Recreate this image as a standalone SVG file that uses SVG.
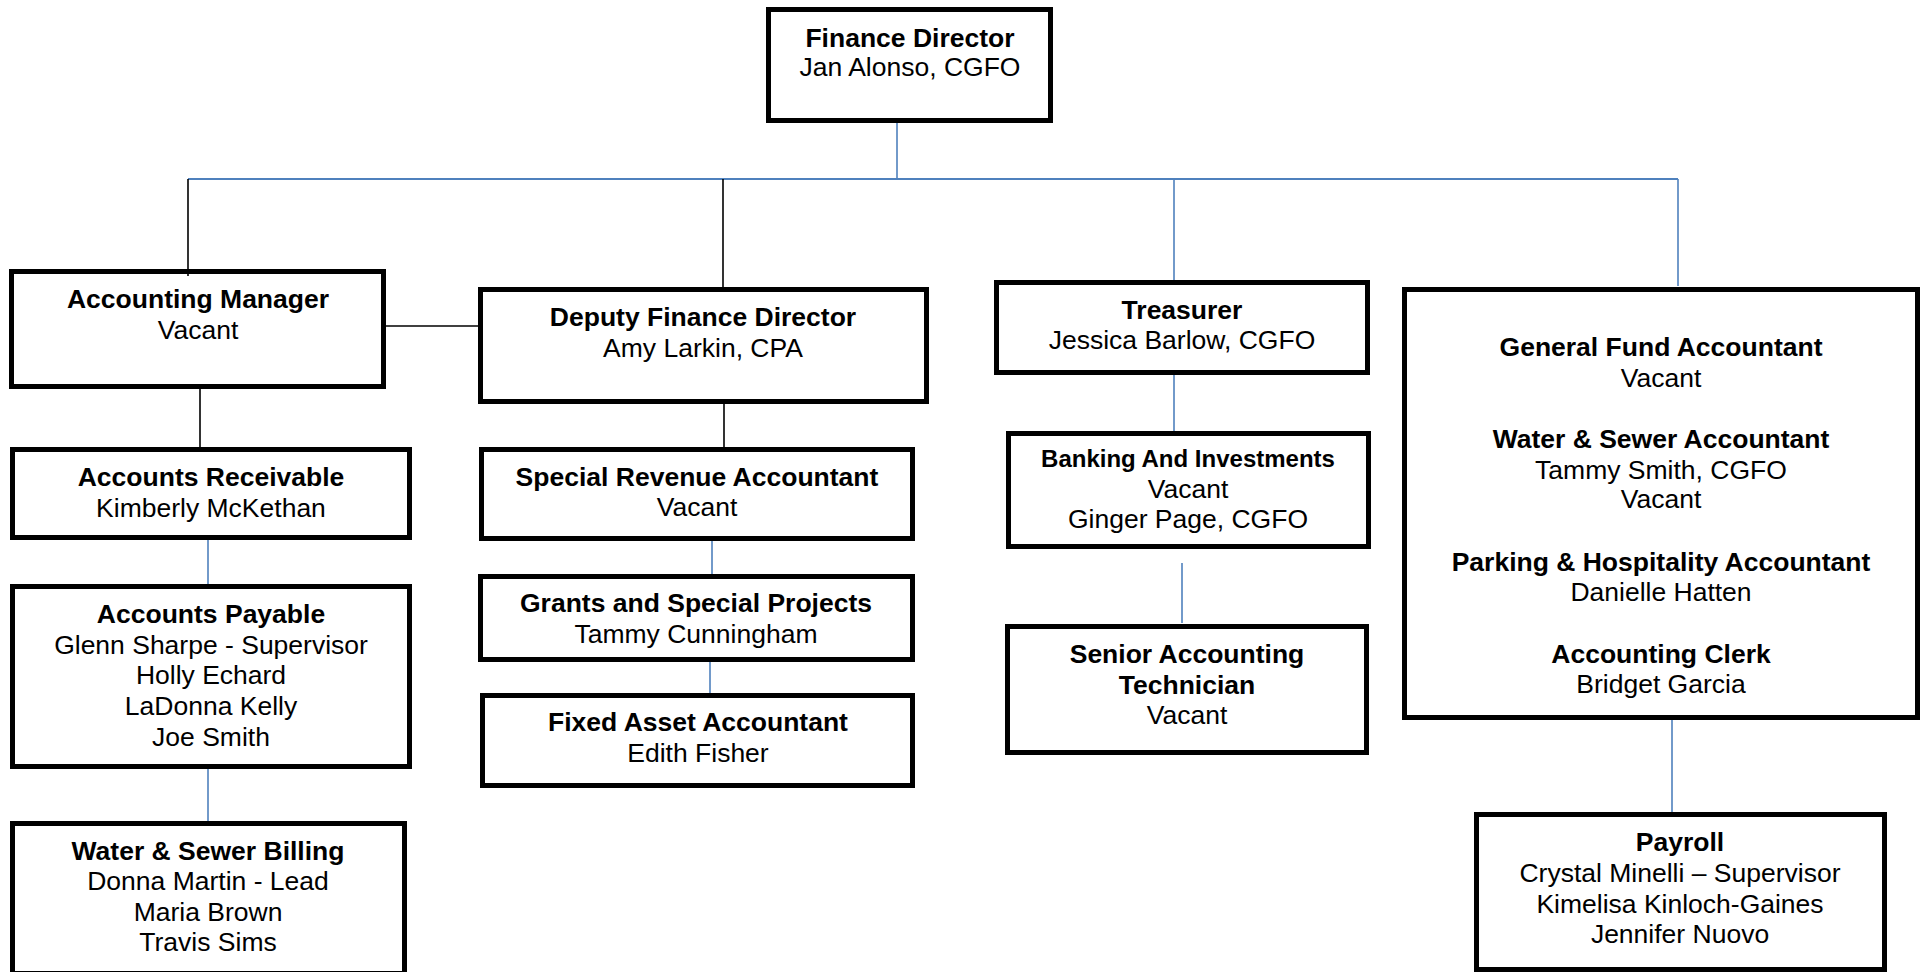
<svg xmlns="http://www.w3.org/2000/svg" width="1925" height="972" viewBox="0 0 1925 972">
<style>
.box{fill:#fff;stroke:#000;stroke-width:5}
.t{font-family:"Liberation Sans",Arial,sans-serif;font-size:26.5px;text-anchor:middle;fill:#000}
.b{font-weight:bold}
.s{font-size:24px}
.cb{stroke:#4F81BD;stroke-width:1.6;fill:none}
.ck{stroke:#000;stroke-width:1.6;fill:none}
</style>
<rect width="1925" height="972" fill="#fff"/>
<g id="connectors">
<line class="cb" x1="897" y1="123" x2="897" y2="179"/>
<line class="cb" x1="188" y1="179" x2="1678" y2="179" style="stroke-width:2.2"/>
<line class="ck" x1="188" y1="179" x2="188" y2="276"/>
<line class="ck" x1="723" y1="179" x2="723" y2="287"/>
<line class="cb" x1="1174" y1="179" x2="1174" y2="286"/>
<line class="cb" x1="1678" y1="179" x2="1678" y2="286"/>
<line class="ck" x1="386" y1="326" x2="478" y2="326"/>
<line class="ck" x1="200" y1="389" x2="200" y2="447"/>
<line class="ck" x1="724" y1="399" x2="724" y2="447"/>
<line class="cb" x1="208" y1="540" x2="208" y2="584"/>
<line class="cb" x1="208" y1="768" x2="208" y2="822"/>
<line class="cb" x1="712" y1="541" x2="712" y2="574"/>
<line class="cb" x1="710" y1="662" x2="710" y2="693"/>
<line class="cb" x1="1174" y1="375" x2="1174" y2="431"/>
<line class="cb" x1="1182" y1="563" x2="1182" y2="623"/>
<line class="cb" x1="1672" y1="720" x2="1672" y2="812"/>
</g>
<g id="finance-director">
<rect class="box" x="768.5" y="9.5" width="282" height="111"/>
<text class="t b" x="910" y="47">Finance Director</text>
<text class="t" x="910" y="76">Jan Alonso, CGFO</text>
</g>
<g id="accounting-manager">
<rect class="box" x="11.5" y="271.5" width="372" height="115"/>
<text class="t b" x="198" y="308">Accounting Manager</text>
<text class="t" x="198" y="339">Vacant</text>
</g>
<line class="ck" x1="188" y1="269" x2="188" y2="276"/>
<g id="deputy-finance-director">
<rect class="box" x="480.5" y="289.5" width="446" height="112"/>
<text class="t b" x="703" y="326">Deputy Finance Director</text>
<text class="t" x="703" y="357">Amy Larkin, CPA</text>
</g>
<line class="ck" x1="724" y1="399" x2="724" y2="404"/>
<g id="treasurer">
<rect class="box" x="996.5" y="282.5" width="371" height="90"/>
<text class="t b" x="1182" y="319">Treasurer</text>
<text class="t" x="1182" y="349">Jessica Barlow, CGFO</text>
</g>
<g id="accountants-group">
<rect class="box" x="1404.5" y="289.5" width="513" height="428"/>
<text class="t b" x="1661" y="356">General Fund Accountant</text>
<text class="t" x="1661" y="387">Vacant</text>
<text class="t b" x="1661" y="448">Water &amp; Sewer Accountant</text>
<text class="t" x="1661" y="479">Tammy Smith, CGFO</text>
<text class="t" x="1661" y="508">Vacant</text>
<text class="t b" x="1661" y="571">Parking &amp; Hospitality Accountant</text>
<text class="t" x="1661" y="601">Danielle Hatten</text>
<text class="t b" x="1661" y="663">Accounting Clerk</text>
<text class="t" x="1661" y="693">Bridget Garcia</text>
</g>
<g id="accounts-receivable">
<rect class="box" x="12.5" y="449.5" width="397" height="88"/>
<text class="t b" x="211" y="486">Accounts Receivable</text>
<text class="t" x="211" y="517">Kimberly McKethan</text>
</g>
<g id="special-revenue-accountant">
<rect class="box" x="481.5" y="449.5" width="431" height="89"/>
<text class="t b" x="697" y="486">Special Revenue Accountant</text>
<text class="t" x="697" y="516">Vacant</text>
</g>
<g id="accounts-payable">
<rect class="box" x="12.5" y="586.5" width="397" height="180"/>
<text class="t b" x="211" y="623">Accounts Payable</text>
<text class="t" x="211" y="654">Glenn Sharpe - Supervisor</text>
<text class="t" x="211" y="684">Holly Echard</text>
<text class="t" x="211" y="715">LaDonna Kelly</text>
<text class="t" x="211" y="746">Joe Smith</text>
</g>
<g id="grants-special-projects">
<rect class="box" x="480.5" y="576.5" width="432" height="83"/>
<text class="t b" x="696" y="612">Grants and Special Projects</text>
<text class="t" x="696" y="643">Tammy Cunningham</text>
</g>
<g id="fixed-asset-accountant">
<rect class="box" x="482.5" y="695.5" width="430" height="90"/>
<text class="t b" x="698" y="731">Fixed Asset Accountant</text>
<text class="t" x="698" y="762">Edith Fisher</text>
</g>
<g id="water-sewer-billing">
<rect class="box" x="12.5" y="823.5" width="392" height="150"/>
<text class="t b" x="208" y="860">Water &amp; Sewer Billing</text>
<text class="t" x="208" y="890">Donna Martin - Lead</text>
<text class="t" x="208" y="921">Maria Brown</text>
<text class="t" x="208" y="951">Travis Sims</text>
</g>
<g id="banking-investments">
<rect class="box" x="1008.5" y="433.5" width="360" height="113"/>
<text class="t b s" x="1188" y="467">Banking And Investments</text>
<text class="t" x="1188" y="498">Vacant</text>
<text class="t" x="1188" y="528">Ginger Page, CGFO</text>
</g>
<g id="senior-accounting-technician">
<rect class="box" x="1007.5" y="626.5" width="359" height="126"/>
<text class="t b" x="1187" y="663">Senior Accounting</text>
<text class="t b" x="1187" y="694">Technician</text>
<text class="t" x="1187" y="724">Vacant</text>
</g>
<g id="payroll">
<rect class="box" x="1476.5" y="814.5" width="408" height="155"/>
<text class="t b" x="1680" y="851">Payroll</text>
<text class="t" x="1680" y="882">Crystal Minelli – Supervisor</text>
<text class="t" x="1680" y="913">Kimelisa Kinloch-Gaines</text>
<text class="t" x="1680" y="943">Jennifer Nuovo</text>
</g>
</svg>
